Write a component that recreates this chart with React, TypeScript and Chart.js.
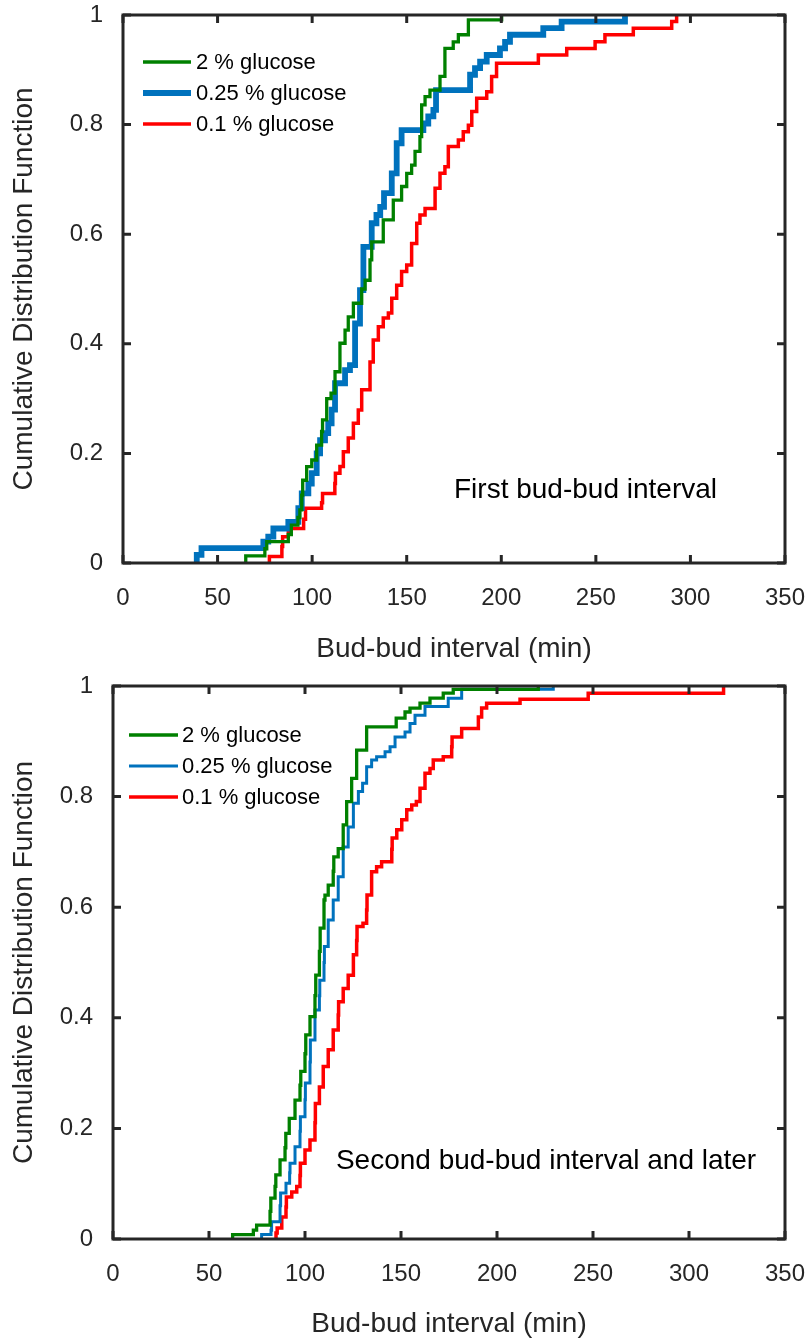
import React, { useEffect, useRef } from "react";
import { Chart, registerables } from "chart.js";

Chart.register(...registerables);

// ---------- data ----------
const X_TICKS = [0, 50, 100, 150, 200, 250, 300, 350];
const Y_TICKS = [0, 0.2, 0.4, 0.6, 0.8, 1];
const SERIES_LABELS = ["2 % glucose", "0.25 % glucose", "0.1 % glucose"];
const X_TITLE = "Bud-bud interval (min)";
const Y_TITLE = "Cumulative Distribution Function";
const NOTE_FIRST = "First bud-bud interval";
const NOTE_SECOND = "Second bud-bud interval and later";

// Panel 1: first bud-bud interval (ECDF step corners: x, level after the step)
const FIRST_GREEN_X = [64.9, 75.0, 76.0, 87.4, 89.0, 92.5, 93.5, 94.5, 95.0, 97.1, 99.8, 102.4, 105.0, 105.5, 107.7, 110.0, 112.1, 114.7, 117.4, 119.1, 121.8, 126.2, 128.0, 130.6, 131.5, 137.6, 142.9, 147.3, 150.0, 152.6, 154.4, 157.0, 157.9, 159.7, 162.3, 167.6, 170.2, 174.6, 177.3, 182.6, 200.2];
const FIRST_GREEN_Y = [0.013, 0.026, 0.039, 0.052, 0.069, 0.083, 0.097, 0.124, 0.151, 0.176, 0.188, 0.215, 0.24, 0.261, 0.3, 0.31, 0.349, 0.401, 0.425, 0.449, 0.474, 0.5, 0.516, 0.553, 0.586, 0.626, 0.662, 0.687, 0.711, 0.726, 0.751, 0.778, 0.836, 0.851, 0.863, 0.888, 0.939, 0.951, 0.964, 0.991, 1.0];

const FIRST_BLUE_X = [39.0, 41.5, 74.2, 76.8, 79.5, 87.4, 92.7, 94.5, 98.0, 99.8, 102.4, 104.2, 106.8, 108.5, 110.3, 112.1, 117.4, 120.0, 122.7, 125.3, 127.1, 131.5, 134.0, 136.0, 138.0, 142.1, 144.7, 147.3, 158.8, 161.4, 164.1, 165.5, 183.5, 186.1, 188.8, 192.3, 199.3, 202.0, 204.6, 222.2, 231.9, 265.4];
const FIRST_BLUE_Y = [0.015, 0.027, 0.039, 0.048, 0.063, 0.075, 0.1, 0.127, 0.145, 0.164, 0.2, 0.224, 0.237, 0.255, 0.28, 0.328, 0.352, 0.361, 0.437, 0.498, 0.577, 0.62, 0.635, 0.65, 0.675, 0.711, 0.766, 0.79, 0.802, 0.815, 0.827, 0.863, 0.891, 0.903, 0.915, 0.927, 0.939, 0.951, 0.964, 0.976, 0.988, 1.0];

const FIRST_RED_X = [77.4, 84.0, 84.4, 87.4, 95.5, 96.5, 105.0, 105.5, 112.0, 112.3, 114.7, 116.5, 119.1, 121.8, 124.4, 126.2, 130.6, 132.3, 135.0, 137.6, 140.3, 142.1, 144.7, 147.3, 150.0, 152.6, 155.3, 157.0, 159.7, 165.0, 167.6, 170.2, 172.0, 177.3, 179.9, 182.6, 184.4, 187.0, 192.3, 194.9, 197.5, 219.6, 234.6, 249.6, 254.8, 269.8, 290.1, 292.7];
const FIRST_RED_Y = [0.012, 0.03, 0.048, 0.063, 0.08, 0.1, 0.11, 0.127, 0.145, 0.164, 0.176, 0.203, 0.228, 0.255, 0.279, 0.316, 0.367, 0.407, 0.431, 0.447, 0.456, 0.483, 0.507, 0.532, 0.544, 0.583, 0.62, 0.635, 0.647, 0.684, 0.711, 0.723, 0.76, 0.772, 0.787, 0.799, 0.824, 0.848, 0.86, 0.888, 0.912, 0.927, 0.939, 0.951, 0.964, 0.976, 0.988, 1.0];

// Panel 2: second bud-bud interval and later
const SECOND_GREEN_X = [62.3, 73.1, 74.8, 81.8, 82.2, 84.4, 84.8, 87.0, 89.6, 90.0, 91.8, 94.8, 97.4, 97.8, 100.0, 100.4, 102.6, 105.2, 105.6, 107.5, 107.9, 109.9, 110.4, 112.1, 114.7, 115.0, 117.3, 119.9, 121.7, 124.3, 126.9, 132.1, 147.5, 152.1, 154.7, 159.9, 165.1, 172.0, 177.2, 221.5];
const SECOND_GREEN_Y = [0.008, 0.016, 0.025, 0.05, 0.074, 0.095, 0.116, 0.143, 0.165, 0.191, 0.218, 0.251, 0.278, 0.303, 0.335, 0.369, 0.402, 0.44, 0.477, 0.52, 0.562, 0.613, 0.622, 0.64, 0.665, 0.691, 0.706, 0.749, 0.791, 0.833, 0.884, 0.926, 0.942, 0.953, 0.96, 0.969, 0.978, 0.987, 0.994, 1.0];

const SECOND_BLUE_X = [77.4, 82.3, 82.6, 87.0, 87.3, 90.1, 92.0, 92.2, 94.8, 97.4, 97.6, 100.0, 100.2, 102.6, 102.8, 105.2, 107.5, 107.7, 109.9, 110.1, 112.1, 114.7, 117.3, 119.9, 122.5, 125.2, 127.8, 130.0, 132.1, 134.7, 137.3, 141.7, 144.3, 146.9, 152.1, 154.7, 157.3, 162.5, 174.6, 181.6, 229.3];
const SECOND_BLUE_Y = [0.008, 0.016, 0.031, 0.06, 0.083, 0.101, 0.12, 0.137, 0.167, 0.195, 0.221, 0.252, 0.282, 0.32, 0.36, 0.414, 0.44, 0.468, 0.5, 0.529, 0.577, 0.613, 0.655, 0.709, 0.745, 0.788, 0.809, 0.824, 0.854, 0.866, 0.872, 0.881, 0.89, 0.908, 0.917, 0.932, 0.947, 0.963, 0.978, 0.994, 1.0];

const SECOND_RED_X = [84.9, 85.5, 87.9, 90.1, 90.3, 93.1, 95.7, 97.4, 97.6, 100.0, 102.6, 105.2, 105.4, 107.5, 109.5, 112.1, 114.7, 117.3, 117.5, 119.9, 122.5, 125.2, 126.9, 127.1, 130.2, 132.1, 132.3, 134.7, 137.3, 139.9, 145.2, 145.4, 147.8, 150.4, 153.0, 155.6, 158.0, 159.9, 162.5, 165.1, 166.8, 172.0, 176.4, 176.6, 181.6, 190.3, 192.0, 194.6, 212.0, 247.5, 318.0];
const SECOND_RED_Y = [0.011, 0.02, 0.04, 0.058, 0.076, 0.085, 0.095, 0.115, 0.137, 0.161, 0.179, 0.21, 0.245, 0.275, 0.312, 0.342, 0.378, 0.405, 0.429, 0.453, 0.477, 0.514, 0.54, 0.565, 0.571, 0.595, 0.622, 0.664, 0.673, 0.682, 0.705, 0.725, 0.74, 0.758, 0.776, 0.785, 0.791, 0.815, 0.842, 0.851, 0.866, 0.872, 0.89, 0.908, 0.923, 0.944, 0.96, 0.969, 0.976, 0.987, 1.0];

// ---------- styles ----------
const FONT = '"Liberation Sans", Arial, Helvetica, sans-serif';
const AXIS_COLOR = "#262626";
const GREEN = "#008000";
const BLUE = "#0072BD";
const RED = "#FF0000";
const W = 806;
const TICK_SIZE = 24;
const TITLE_SIZE = 28;

type Series = { label: string; x: number[]; y: number[]; color: string; width: number };

const boxPlugin = {
  id: "matlabBox",
  afterDatasetsDraw(chart: any) {
    const { ctx, chartArea: a, scales } = chart;
    const tl = 8;
    ctx.save();
    ctx.strokeStyle = AXIS_COLOR;
    ctx.lineWidth = 3;
    ctx.lineCap = "butt";
    ctx.beginPath();
    for (const t of scales.x.ticks) {
      const px = scales.x.getPixelForValue(t.value);
      ctx.moveTo(px, a.bottom);
      ctx.lineTo(px, a.bottom - tl);
      ctx.moveTo(px, a.top);
      ctx.lineTo(px, a.top + tl);
    }
    for (const t of scales.y.ticks) {
      const py = scales.y.getPixelForValue(t.value);
      ctx.moveTo(a.left, py);
      ctx.lineTo(a.left + tl, py);
      ctx.moveTo(a.right, py);
      ctx.lineTo(a.right - tl, py);
    }
    ctx.stroke();
    ctx.lineJoin = "miter";
    ctx.strokeRect(a.left, a.top, a.right - a.left, a.bottom - a.top);
    ctx.restore();
  },
};

const legendNotePlugin = {
  id: "legendNote",
  afterDraw(chart: any, _args: any, opts: any) {
    const { ctx, chartArea: a, scales } = chart;
    ctx.save();
    ctx.textBaseline = "middle";
    ctx.textAlign = "left";
    // legend
    ctx.font = `${opts.legendSize}px ${FONT}`;
    chart.data.datasets.forEach((ds: any, i: number) => {
      const y = a.top + opts.legendTop + i * opts.legendGap;
      const x0 = a.left + opts.legendLeft;
      ctx.strokeStyle = ds.borderColor;
      ctx.lineWidth = ds.borderWidth;
      ctx.lineCap = "butt";
      ctx.beginPath();
      ctx.moveTo(x0, y);
      ctx.lineTo(x0 + opts.legendLine, y);
      ctx.stroke();
      ctx.fillStyle = "#000";
      ctx.fillText(ds.label, x0 + opts.legendLine + opts.legendTextGap, y + 1);
    });
    // annotation (data coordinates)
    ctx.font = `${opts.noteSize}px ${FONT}`;
    ctx.fillStyle = "#000";
    ctx.fillText(opts.noteText, scales.x.getPixelForValue(opts.noteX), scales.y.getPixelForValue(opts.noteY));
    ctx.restore();
  },
};

type PanelProps = {
  top: number;
  height: number;
  area: { left: number; top: number; right: number; bottom: number };
  series: Series[];
  legend: any;
};

function Panel({ top, height, area, series, legend }: PanelProps) {
  const ref = useRef<HTMLCanvasElement>(null);
  useEffect(() => {
    const chart = new Chart(ref.current as HTMLCanvasElement, {
      type: "line",
      data: {
        datasets: series.map((s) => ({
          label: s.label,
          data: [{ x: s.x[0], y: 0 }, ...s.x.map((x, i) => ({ x, y: s.y[i] }))],
          borderColor: s.color,
          backgroundColor: s.color,
          borderWidth: s.width,
          stepped: "before" as const,
          pointRadius: 0,
          pointHoverRadius: 0,
          fill: false,
          borderJoinStyle: "miter" as const,
          borderCapStyle: "butt" as const,
        })),
      },
      options: {
        responsive: false,
        animation: false,
        devicePixelRatio: 1,
        events: [],
        layout: { padding: { left: 0, top: area.top, right: W - area.right, bottom: 0 } },
        scales: {
          x: {
            type: "linear",
            min: 0,
            max: 350,
            grid: { display: false },
            border: { display: false },
            afterBuildTicks: (s: any) => {
              s.ticks = X_TICKS.map((v) => ({ value: v }));
            },
            afterFit: (s: any) => {
              s.height = height - area.bottom;
              s.paddingLeft = 0;
              s.paddingRight = 0;
            },
            ticks: {
              autoSkip: false,
              maxRotation: 0,
              padding: 13,
              color: AXIS_COLOR,
              font: { family: FONT, size: TICK_SIZE },
              callback: (v: any) => String(v),
            },
            title: {
              display: true,
              text: X_TITLE,
              color: AXIS_COLOR,
              font: { family: FONT, size: TITLE_SIZE, lineHeight: 1 },
              padding: { top: 0, bottom: legend.xTitlePad },
            },
          },
          y: {
            type: "linear",
            min: 0,
            max: 1,
            grid: { display: false },
            border: { display: false },
            afterBuildTicks: (s: any) => {
              s.ticks = Y_TICKS.map((v) => ({ value: v }));
            },
            afterFit: (s: any) => {
              s.width = area.left;
              s.paddingTop = 0;
              s.paddingBottom = 0;
            },
            ticks: {
              padding: 12,
              color: AXIS_COLOR,
              font: { family: FONT, size: TICK_SIZE },
              callback: (v: any) => String(v),
            },
            title: {
              display: true,
              text: Y_TITLE,
              color: AXIS_COLOR,
              font: { family: FONT, size: TITLE_SIZE, lineHeight: 1 },
              padding: { top: 10.5, bottom: 0 },
            },
          },
        },
        plugins: {
          legend: { display: false },
          tooltip: { enabled: false },
          legendNote: legend,
        } as any,
      },
      plugins: [boxPlugin, legendNotePlugin],
    });
    return () => chart.destroy();
  }, []);
  return (
    <canvas
      ref={ref}
      width={W}
      height={height}
      style={{ position: "absolute", left: 0, top, width: W, height, display: "block" }}
    />
  );
}

const FIRST_SERIES: Series[] = [
  { label: SERIES_LABELS[0], x: FIRST_GREEN_X, y: FIRST_GREEN_Y, color: GREEN, width: 3.3 },
  { label: SERIES_LABELS[1], x: FIRST_BLUE_X, y: FIRST_BLUE_Y, color: BLUE, width: 5.8 },
  { label: SERIES_LABELS[2], x: FIRST_RED_X, y: FIRST_RED_Y, color: RED, width: 3.5 },
];

const SECOND_SERIES: Series[] = [
  { label: SERIES_LABELS[0], x: SECOND_GREEN_X, y: SECOND_GREEN_Y, color: GREEN, width: 3.3 },
  { label: SERIES_LABELS[1], x: SECOND_BLUE_X, y: SECOND_BLUE_Y, color: BLUE, width: 3.0 },
  { label: SERIES_LABELS[2], x: SECOND_RED_X, y: SECOND_RED_Y, color: RED, width: 3.5 },
];

export default function App() {
  return (
    <div style={{ position: "absolute", left: 0, top: 0, width: W, height: 1338, background: "#fff", overflow: "hidden" }}>
      <Panel
        top={0}
        height={669}
        area={{ left: 123, top: 15, right: 785, bottom: 563 }}
        series={FIRST_SERIES}
        legend={{
          legendSize: 22,
          legendTop: 47,
          legendGap: 31,
          legendLeft: 20,
          legendLine: 48,
          legendTextGap: 5,
          noteSize: 28,
          noteText: NOTE_FIRST,
          noteX: 175,
          noteY: 0.133,
          xTitlePad: 6,
        }}
      />
      <Panel
        top={669}
        height={669}
        area={{ left: 113, top: 17, right: 785, bottom: 570 }}
        series={SECOND_SERIES}
        legend={{
          legendSize: 22,
          legendTop: 49,
          legendGap: 31,
          legendLeft: 16,
          legendLine: 49,
          legendTextGap: 4,
          noteSize: 28,
          noteText: NOTE_SECOND,
          noteX: 116.1,
          noteY: 0.14,
          xTitlePad: 0,
        }}
      />
    </div>
  );
}
